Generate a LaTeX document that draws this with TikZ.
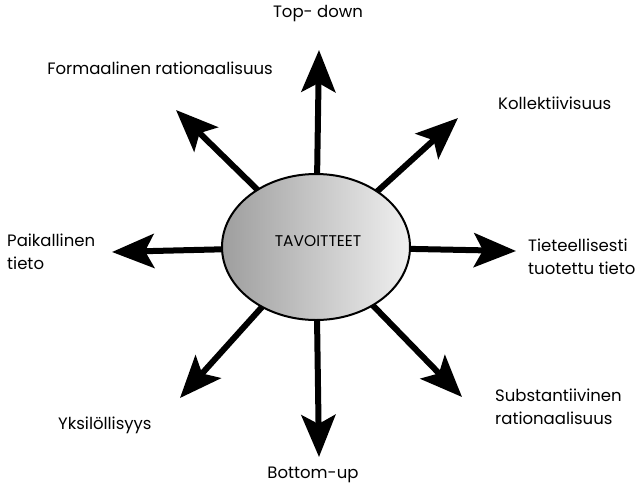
\documentclass[tikz,border=0pt]{standalone}
\usepackage{fontspec}
\setmainfont{Poppins}
\usetikzlibrary{arrows.meta,shapes.geometric}
\begin{document}
\begin{tikzpicture}[x=1pt,y=-1pt,
  arr/.style={line width=6pt,-{Stealth[length=42pt,width=34pt,inset=9pt]}},
  lbl/.style={font=\fontsize{16.5}{23}\selectfont,inner sep=0pt,align=left},
  center/.style={ellipse,draw,line width=2pt,minimum width=188pt,minimum height=146pt,inner sep=0pt,
     left color=black!38,right color=black!6}]
\useasboundingbox (0,0) rectangle (644,490);
\coordinate (c) at (316,247);
\coordinate (tN) at (319,50);
\coordinate (tS) at (319,457);
\coordinate (tW) at (112,252);
\coordinate (tE) at (516,251);
\coordinate (tNW) at (176,110);
\coordinate (tNE) at (458,118);
\coordinate (tSE) at (462,397);
\coordinate (tSW) at (180,398);
\draw[arr] (c) -- (tN);
\draw[arr] (c) -- (tS);
\draw[arr] (c) -- (tW);
\draw[arr] (c) -- (tE);
\draw[arr] (c) -- (tNW);
\draw[arr] (c) -- (tNE);
\draw[arr] (c) -- (tSE);
\draw[arr] (c) -- (tSW);
\node[center] (e) at (c) {};
\node[font=\fontsize{15.5}{17}\selectfont] (t) at (318,241) {TAVOITTEET};
\node[lbl] (n1) at (318,14) {Top- down};
\node[lbl] (n2) at (313,475) {Bottom-up};
\node[lbl] (n3) at (160,68) {Formaalinen rationaalisuus};
\node[lbl,anchor=west] (n4) at (498,103) {Kollektiivisuus};
\node[lbl,anchor=west] (n5) at (7,252) {Paikallinen\\tieto};
\node[lbl,anchor=west] (n6) at (528,257) {Tieteellisesti\\tuotettu tieto};
\node[lbl,anchor=west] (n7) at (495,407) {Substantiivinen\\rationaalisuus};
\node[lbl,anchor=west] (n8) at (58,425) {Yksilöllisyys};
\end{tikzpicture}
\end{document}
